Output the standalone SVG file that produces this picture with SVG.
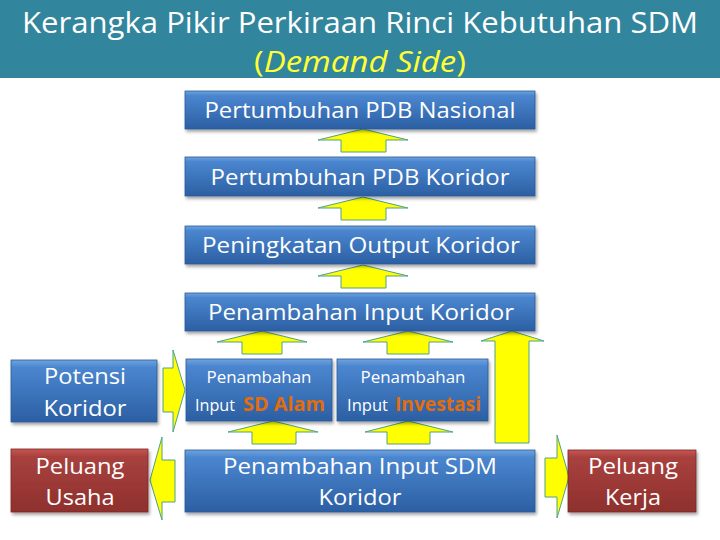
<svg xmlns="http://www.w3.org/2000/svg" width="720" height="540" viewBox="0 0 720 540">
<defs>
<linearGradient id="gBlue" x1="0" y1="0" x2="0" y2="1">
<stop offset="0" stop-color="#6FA3DE"/>
<stop offset="0.12" stop-color="#4A86CF"/>
<stop offset="1" stop-color="#2C5FA3"/>
</linearGradient>
<linearGradient id="gRed" x1="0" y1="0" x2="0" y2="1">
<stop offset="0" stop-color="#C65753"/>
<stop offset="0.12" stop-color="#A8413E"/>
<stop offset="1" stop-color="#8E302D"/>
</linearGradient>
<filter id="sh" x="-10%" y="-10%" width="125%" height="140%">
<feDropShadow dx="1.5" dy="2.5" stdDeviation="1.5" flood-color="#000" flood-opacity="0.35"/>
</filter>
</defs>
<style>
.box{fill:url(#gBlue);stroke:#2A5A96;stroke-width:0.8;filter:url(#sh)}
.red{fill:url(#gRed);stroke:#7D2A28;stroke-width:0.8;filter:url(#sh)}
.t{font-family:"Open Sans","Noto Sans","Liberation Sans",sans-serif;fill:#FFFFFF;text-anchor:middle}
.s{font-family:"Open Sans","Noto Sans","Liberation Sans",sans-serif;fill:#FFFFFF}
.o{fill:#E46C0A;font-weight:bold}
.arr{fill:#FFFF00;stroke:#4FA08E;stroke-width:1;stroke-linejoin:miter}
</style>
<rect x="0" y="0" width="720" height="78" fill="#31859C"/>
<text class="t" x="360" y="33" font-size="30" textLength="676" lengthAdjust="spacingAndGlyphs">Kerangka Pikir Perkiraan Rinci Kebutuhan SDM</text>
<text class="t" x="360" y="72" font-size="30" textLength="212" lengthAdjust="spacingAndGlyphs" style="fill:#FFFF33">(<tspan font-style="italic">Demand Side</tspan>)</text>

<g id="connectors">
<path class="arr" d="M363,129 L408,140 L386,140 L386,152 L341,152 L341,140 L318,140 Z"/>
<path class="arr" d="M363,197 L408,208 L386,208 L386,220 L341,220 L341,208 L318,208 Z"/>
<path class="arr" d="M363,265 L408,276 L386,276 L386,288 L341,288 L341,276 L318,276 Z"/>
<path class="arr" d="M262,331 L307,342 L282,342 L282,354 L242,354 L242,342 L217,342 Z"/>
<path class="arr" d="M408,331 L453,342 L429,342 L429,354 L387,354 L387,342 L363,342 Z"/>
<path class="arr" d="M512,331 L544,341 L529,341 L529,443 L495,443 L495,341 L481,341 Z"/>
<path class="arr" d="M273,421 L318,432 L296,432 L296,444 L252,444 L252,432 L228,432 Z"/>
<path class="arr" d="M408,421 L453,432 L430,432 L430,444 L387,444 L387,432 L365,432 Z"/>
<path class="arr" d="M185,390 L173,432 L173,412 L163,412 L163,368 L173,368 L173,350 Z"/>
<path class="arr" d="M150,480 L162,437 L162,460 L175,460 L175,502 L162,502 L162,520 Z"/>
<path class="arr" d="M569,477 L557,518 L557,497 L545,497 L545,458 L557,458 L557,435 Z"/>
</g>

<g id="n1"><rect class="box" x="185" y="91" width="350" height="38"/>
<text class="t" x="360" y="118" font-size="22" textLength="311" lengthAdjust="spacingAndGlyphs">Pertumbuhan PDB Nasional</text></g>
<g id="n2"><rect class="box" x="185" y="157" width="350" height="39"/>
<text class="t" x="360" y="185" font-size="22" textLength="299" lengthAdjust="spacingAndGlyphs">Pertumbuhan PDB Koridor</text></g>
<g id="n3"><rect class="box" x="185" y="226" width="350" height="38"/>
<text class="t" x="361" y="253" font-size="22" textLength="318" lengthAdjust="spacingAndGlyphs">Peningkatan Output Koridor</text></g>
<g id="n4"><rect class="box" x="185" y="293" width="350" height="38"/>
<text class="t" x="361" y="320" font-size="22" textLength="306" lengthAdjust="spacingAndGlyphs">Penambahan Input Koridor</text></g>
<g id="n5"><rect class="box" x="186" y="359" width="146" height="62"/>
<text class="t" x="259" y="383" font-size="17" textLength="105" lengthAdjust="spacingAndGlyphs">Penambahan</text>
<text class="s" x="195" y="411" font-size="16"><tspan textLength="40" lengthAdjust="spacingAndGlyphs">Input</tspan> <tspan class="o" x="243" font-size="19" textLength="82" lengthAdjust="spacingAndGlyphs">SD Alam</tspan></text></g>
<g id="n6"><rect class="box" x="337" y="359" width="151" height="62"/>
<text class="t" x="413" y="383" font-size="17" textLength="105" lengthAdjust="spacingAndGlyphs">Penambahan</text>
<text class="s" x="347" y="411" font-size="16"><tspan textLength="41" lengthAdjust="spacingAndGlyphs">Input</tspan> <tspan class="o" x="395" font-size="19" textLength="86" lengthAdjust="spacingAndGlyphs">Investasi</tspan></text></g>
<g id="n7"><rect class="box" x="11" y="360" width="146" height="62"/>
<text class="t" x="85" y="384" font-size="22" textLength="82" lengthAdjust="spacingAndGlyphs">Potensi</text>
<text class="t" x="85" y="416" font-size="22" textLength="83" lengthAdjust="spacingAndGlyphs">Koridor</text></g>
<g id="n8"><rect class="red" x="11" y="449" width="137" height="63"/>
<text class="t" x="80" y="474" font-size="22" textLength="89" lengthAdjust="spacingAndGlyphs">Peluang</text>
<text class="t" x="80" y="505" font-size="22" textLength="69" lengthAdjust="spacingAndGlyphs">Usaha</text></g>
<g id="n9"><rect class="box" x="185" y="450" width="350" height="62"/>
<text class="t" x="360" y="474" font-size="22" textLength="274" lengthAdjust="spacingAndGlyphs">Penambahan Input SDM</text>
<text class="t" x="360" y="505" font-size="22" textLength="83" lengthAdjust="spacingAndGlyphs">Koridor</text></g>
<g id="n10"><rect class="red" x="568" y="450" width="128" height="62"/>
<text class="t" x="633" y="474" font-size="22" textLength="90" lengthAdjust="spacingAndGlyphs">Peluang</text>
<text class="t" x="633" y="505" font-size="22" textLength="56" lengthAdjust="spacingAndGlyphs">Kerja</text></g>
</svg>
